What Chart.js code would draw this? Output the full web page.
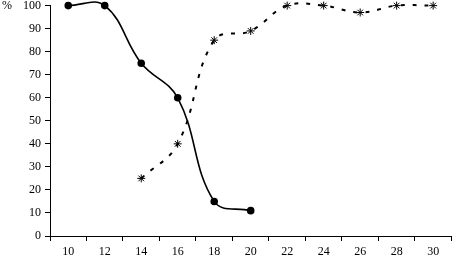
<!DOCTYPE html>
<html>
<head>
<meta charset="utf-8">
<script src="https://cdn.jsdelivr.net/npm/chart.js@4.4.0/dist/chart.umd.min.js"></script>
<style>
  html, body { margin: 0; padding: 0; background: #fff; overflow: hidden; }
  canvas { display: block; }
</style>
</head>
<body>
<canvas id="chart" width="457" height="260"></canvas>
<script>
const labels = ["10", "12", "14", "16", "18", "20", "22", "24", "26", "28", "30"];
const solidValues = [100, 100, 75, 60, 15, 11, null, null, null, null, null];
const dashedValues = [null, null, 25, 40, 85, 89, 100, 100, 97, 100, 100];
const yTicks = [0, 10, 20, 30, 40, 50, 60, 70, 80, 90, 100];

// draws the "%" unit label at the top of the y axis
const unitLabel = {
    id: 'unitLabel',
    afterDraw(chart) {
        const ctx = chart.ctx;
        const y = chart.scales.y;
        ctx.save();
        ctx.font = '12px "Liberation Serif"';
        ctx.fillStyle = '#000';
        ctx.textAlign = 'left';
        ctx.textBaseline = 'middle';
        ctx.fillText('%', 2, y.getPixelForValue(100));
        ctx.restore();
    }
};

new Chart(document.getElementById('chart'), {
    type: 'line',
    data: {
        labels: labels,
        datasets: [
            {
                data: solidValues,
                borderColor: '#000',
                backgroundColor: '#000',
                borderWidth: 1.6,
                tension: 0.4,
                clip: false,
                pointStyle: 'circle',
                pointRadius: 3,
                pointBackgroundColor: '#000'
            },
            {
                data: dashedValues,
                borderColor: '#000',
                backgroundColor: '#000',
                borderWidth: 2,
                borderDash: [4, 8],
                tension: 0.4,
                clip: false,
                pointStyle: 'star',
                pointRadius: 4,
                pointBorderWidth: 1,
                pointBorderColor: '#000'
            }
        ]
    },
    options: {
        responsive: false,
        animation: false,
        elements: { line: { capBezierPoints: false } },
        layout: { padding: { top: 5, right: 1, left: 0, bottom: 0 } },
        plugins: {
            legend: { display: false },
            tooltip: { enabled: false }
        },
        scales: {
            x: {
                offset: true,
                grid: { offset: true, drawOnChartArea: false, drawTicks: true, tickLength: 5, color: '#000' },
                border: { color: '#000', width: 1 },
                ticks: { color: '#000', font: { family: 'Liberation Serif', size: 12 }, padding: 4, maxRotation: 0 },
                afterFit(scale) {
                    scale.height = 24;
                    scale.paddingLeft = 0;
                    scale.paddingRight = 0;
                }
            },
            y: {
                min: 0,
                max: 100,
                afterBuildTicks(scale) { scale.ticks = yTicks.map(v => ({ value: v })); },
                grid: { drawOnChartArea: false, drawTicks: true, tickLength: 5, color: '#000' },
                border: { color: '#000', width: 1 },
                ticks: { color: '#000', font: { family: 'Liberation Serif', size: 12 }, padding: 4 },
                afterFit(scale) {
                    scale.width = 50;
                    scale.paddingTop = 0;
                    scale.paddingBottom = 0;
                }
            }
        }
    },
    plugins: [unitLabel]
});
</script>
</body>
</html>
